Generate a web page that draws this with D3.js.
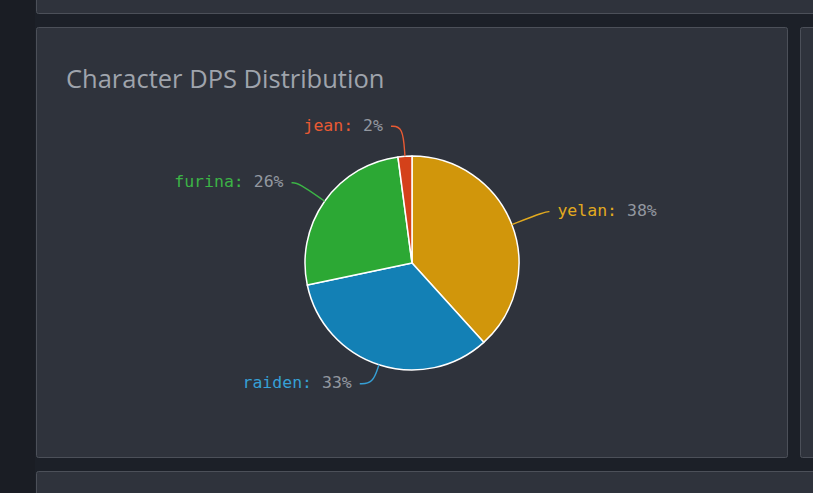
<!DOCTYPE html>
<html>
<head>
<meta charset="utf-8">
<script src="https://cdn.jsdelivr.net/npm/d3@7"></script>
<style>
  html, body { margin: 0; padding: 0; background: #1c2028; overflow: hidden; }
  svg { display: block; }
</style>
</head>
<body>
<svg id="chart" width="813" height="493"></svg>
<script>
// Data
var names = ["yelan", "raiden", "furina", "jean"];
var shares = [38.3, 33.4, 26.2, 2.1];
var title = "Character DPS Distribution";

// Colours
var slice_colors = ["#d1960b", "#1380b5", "#2ca834", "#d4411a"];
var label_colors = ["#e2aa1f", "#36a0d6", "#3cb446", "#e85a33"];
var value_color = "#9398a0";

// Layout
var width = 813;
var height = 493;
var cx = 412;
var cy = 263;
var radius = 107;
// radial / horizontal label line lengths per slice
var line_len1 = [36, 20, 32, 30];
var line_len2 = [4, 13, 7, 12];
var text_gap = 8;

var svg = d3.select("#chart");

// Page background & cards
svg.append("rect").attr("width", width).attr("height", height).attr("fill", "#1c2028");
svg.append("rect").attr("width", 35).attr("height", height).attr("fill", "#1a1d24");

function card(x, y, w, h)
{
    svg.append("rect")
        .attr("x", x + 0.5).attr("y", y + 0.5)
        .attr("width", w).attr("height", h)
        .attr("rx", 2)
        .attr("fill", "#2f333c")
        .attr("stroke", "#4c5059")
        .attr("stroke-width", 1);
}
card(36, -20, 800, 33);
card(36, 27, 751, 430);
card(800, 27, 40, 430);
card(36, 471, 800, 60);

// Title
svg.append("text")
    .attr("x", 66)
    .attr("y", 88)
    .attr("fill", "#9fa4ac")
    .style("font-family", "'Open Sans', 'Noto Sans', sans-serif")
    .style("font-size", "25.5px")
    .text(title);

// Pie
var data = names.map((n, i) => ({name: n, value: shares[i], index: i}));
var pie = d3.pie().sort(null).value(d => d.value);
var arcs = pie(data);
var arc = d3.arc().innerRadius(0).outerRadius(radius);

var g = svg.append("g").attr("transform", "translate(" + cx + "," + cy + ")");

g.selectAll("path.slice")
    .data(arcs)
    .enter()
    .append("path")
    .attr("class", "slice")
    .attr("d", arc)
    .attr("fill", d => slice_colors[d.index])
    .attr("stroke", "#ffffff")
    .attr("stroke-width", 1.5)
    .attr("stroke-linejoin", "round");

// Label lines
function polar(angle, r)
{
    return [Math.sin(angle) * r, -Math.cos(angle) * r];
}

var line = d3.line().curve(d3.curveBasis);

arcs.forEach(function(d)
{
    var i = d.index;
    var mid = (d.startAngle + d.endAngle) / 2;
    var right = Math.sin(mid) >= 0;
    var p1 = polar(mid, radius);
    var p2 = polar(mid, radius + line_len1[i]);
    var p3 = [p2[0] + (right ? 1 : -1) * line_len2[i], p2[1]];

    g.append("path")
        .attr("d", line([p1, p2, p3]))
        .attr("fill", "none")
        .attr("stroke", label_colors[i])
        .attr("stroke-width", 1.4);

    var t = g.append("text")
        .attr("x", p3[0] + (right ? text_gap : -text_gap))
        .attr("y", p3[1])
        .attr("dy", "0.28em")
        .attr("text-anchor", right ? "start" : "end")
        .style("font-family", "'DejaVu Sans Mono', monospace")
        .style("font-size", "16.5px");
    t.append("tspan").attr("fill", label_colors[i]).text(d.data.name + ": ");
    t.append("tspan").attr("fill", value_color).text(Math.round(d.data.value) + "%");
});
</script>
</body>
</html>
